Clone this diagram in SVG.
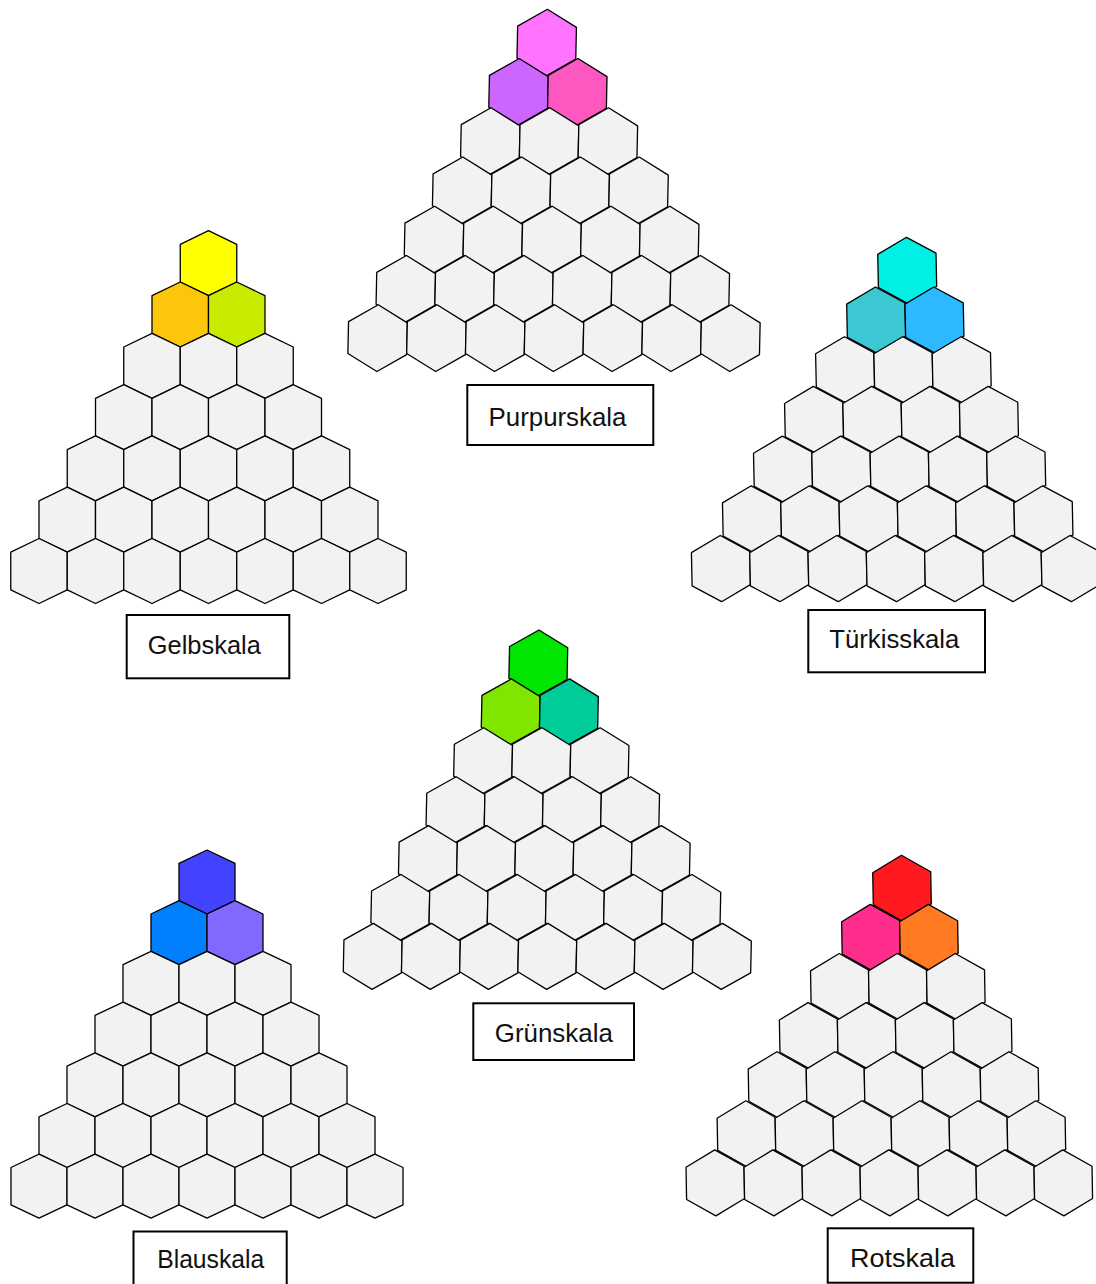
<svg xmlns="http://www.w3.org/2000/svg" xmlns:xlink="http://www.w3.org/1999/xlink" width="1096" height="1284" viewBox="0 0 1096 1284">
<style>
.hx{fill:#F2F2F2;stroke:#000;stroke-width:1.3;stroke-linejoin:round}
.box{fill:#fff;stroke:#000;stroke-width:2}
.lbl{font-family:"Liberation Sans",Arial,sans-serif;font-size:25px;fill:#111;text-anchor:middle}
</style>
<defs>
<polygon id="hP" points="0,-33.35 29.4,-15.9 29.4,15.9 0,33.35 -29.4,15.9 -29.4,-15.9" transform="rotate(1.2)"/>
<polygon id="hG" points="0,-32.5 28.25,-18.8 28.25,18.8 0,32.5 -28.25,18.8 -28.25,-18.8"/>
<polygon id="hT" points="0,-33.1 29.15,-16.6 29.15,16.6 0,33.1 -29.15,16.6 -29.15,-16.6" transform="rotate(-1.2)"/>
<polygon id="hN" points="0,-33 29.1,-15.9 29.1,15.9 0,33 -29.1,15.9 -29.1,-15.9" transform="rotate(1.2)"/>
<polygon id="hB" points="0,-32 28,-18.7 28,18.7 0,32 -28,18.7 -28,-18.7"/>
<polygon id="hR" points="0,-33 29,-16.1 29,16.1 0,33 -29,16.1 -29,-16.1" transform="rotate(-1)"/>
</defs>

<g id="purpurskala">
<use href="#hP" class="hx" x="546.7" y="42.65" style="fill:#FF73FF"/>
<use href="#hP" class="hx" x="518.5" y="91.9" style="fill:#CC66FF"/>
<use href="#hP" class="hx" x="577.3" y="91.9" style="fill:#FF57C0"/>
<use href="#hP" class="hx" x="490.3" y="141.15"/><use href="#hP" class="hx" x="549.1" y="141.15"/><use href="#hP" class="hx" x="607.9" y="141.15"/>
<use href="#hP" class="hx" x="462.15" y="190.4"/><use href="#hP" class="hx" x="520.95" y="190.4"/><use href="#hP" class="hx" x="579.75" y="190.4"/><use href="#hP" class="hx" x="638.55" y="190.4"/>
<use href="#hP" class="hx" x="434" y="239.65"/><use href="#hP" class="hx" x="492.8" y="239.65"/><use href="#hP" class="hx" x="551.6" y="239.65"/><use href="#hP" class="hx" x="610.4" y="239.65"/><use href="#hP" class="hx" x="669.2" y="239.65"/>
<use href="#hP" class="hx" x="405.8" y="288.9"/><use href="#hP" class="hx" x="464.6" y="288.9"/><use href="#hP" class="hx" x="523.4" y="288.9"/><use href="#hP" class="hx" x="582.2" y="288.9"/><use href="#hP" class="hx" x="641" y="288.9"/><use href="#hP" class="hx" x="699.8" y="288.9"/>
<use href="#hP" class="hx" x="377.6" y="338.15"/><use href="#hP" class="hx" x="436.4" y="338.15"/><use href="#hP" class="hx" x="495.2" y="338.15"/><use href="#hP" class="hx" x="554" y="338.15"/><use href="#hP" class="hx" x="612.8" y="338.15"/><use href="#hP" class="hx" x="671.6" y="338.15"/><use href="#hP" class="hx" x="730.4" y="338.15"/>
</g>
<g id="label-purpurskala"><rect class="box" x="467.3" y="385" width="186" height="60"/><text class="lbl" x="557.5" y="426" textLength="138" lengthAdjust="spacingAndGlyphs">Purpurskala</text></g>

<g id="gelbskala">
<use href="#hG" class="hx" x="208.5" y="263.2" style="fill:#FFFF00"/>
<use href="#hG" class="hx" x="180.25" y="314.5" style="fill:#FCC70A"/>
<use href="#hG" class="hx" x="236.75" y="314.5" style="fill:#C8EB00"/>
<use href="#hG" class="hx" x="152" y="365.8"/><use href="#hG" class="hx" x="208.5" y="365.8"/><use href="#hG" class="hx" x="265" y="365.8"/>
<use href="#hG" class="hx" x="123.75" y="417.1"/><use href="#hG" class="hx" x="180.25" y="417.1"/><use href="#hG" class="hx" x="236.75" y="417.1"/><use href="#hG" class="hx" x="293.25" y="417.1"/>
<use href="#hG" class="hx" x="95.5" y="468.4"/><use href="#hG" class="hx" x="152" y="468.4"/><use href="#hG" class="hx" x="208.5" y="468.4"/><use href="#hG" class="hx" x="265" y="468.4"/><use href="#hG" class="hx" x="321.5" y="468.4"/>
<use href="#hG" class="hx" x="67.25" y="519.7"/><use href="#hG" class="hx" x="123.75" y="519.7"/><use href="#hG" class="hx" x="180.25" y="519.7"/><use href="#hG" class="hx" x="236.75" y="519.7"/><use href="#hG" class="hx" x="293.25" y="519.7"/><use href="#hG" class="hx" x="349.75" y="519.7"/>
<use href="#hG" class="hx" x="39" y="571"/><use href="#hG" class="hx" x="95.5" y="571"/><use href="#hG" class="hx" x="152" y="571"/><use href="#hG" class="hx" x="208.5" y="571"/><use href="#hG" class="hx" x="265" y="571"/><use href="#hG" class="hx" x="321.5" y="571"/><use href="#hG" class="hx" x="378" y="571"/>
</g>
<g id="label-gelbskala"><rect class="box" x="126.7" y="615" width="162.6" height="63.3"/><text class="lbl" x="204.3" y="654.3" textLength="113" lengthAdjust="spacingAndGlyphs">Gelbskala</text></g>

<g id="tuerkisskala">
<use href="#hT" class="hx" x="907.2" y="270.4" style="fill:#00F0E6"/>
<use href="#hT" class="hx" x="876.15" y="320.1" style="fill:#3CC8D2"/>
<use href="#hT" class="hx" x="934.45" y="320.1" style="fill:#2DB9FF"/>
<use href="#hT" class="hx" x="845.1" y="369.8"/><use href="#hT" class="hx" x="903.4" y="369.8"/><use href="#hT" class="hx" x="961.7" y="369.8"/>
<use href="#hT" class="hx" x="814.05" y="419.5"/><use href="#hT" class="hx" x="872.35" y="419.5"/><use href="#hT" class="hx" x="930.65" y="419.5"/><use href="#hT" class="hx" x="988.95" y="419.5"/>
<use href="#hT" class="hx" x="783" y="469.2"/><use href="#hT" class="hx" x="841.3" y="469.2"/><use href="#hT" class="hx" x="899.6" y="469.2"/><use href="#hT" class="hx" x="957.9" y="469.2"/><use href="#hT" class="hx" x="1016.2" y="469.2"/>
<use href="#hT" class="hx" x="751.95" y="518.9"/><use href="#hT" class="hx" x="810.25" y="518.9"/><use href="#hT" class="hx" x="868.55" y="518.9"/><use href="#hT" class="hx" x="926.85" y="518.9"/><use href="#hT" class="hx" x="985.15" y="518.9"/><use href="#hT" class="hx" x="1043.45" y="518.9"/>
<use href="#hT" class="hx" x="720.9" y="568.6"/><use href="#hT" class="hx" x="779.2" y="568.6"/><use href="#hT" class="hx" x="837.5" y="568.6"/><use href="#hT" class="hx" x="895.8" y="568.6"/><use href="#hT" class="hx" x="954.1" y="568.6"/><use href="#hT" class="hx" x="1012.4" y="568.6"/><use href="#hT" class="hx" x="1070.7" y="568.6"/>
</g>
<g id="label-tuerkisskala"><rect class="box" x="808.3" y="610" width="176.7" height="62.3"/><text class="lbl" x="894.3" y="648.3" textLength="130" lengthAdjust="spacingAndGlyphs">Türkisskala</text></g>

<g id="gruenskala">
<use href="#hN" class="hx" x="538.3" y="663" style="fill:#00E600"/>
<use href="#hN" class="hx" x="510.7" y="711.9" style="fill:#80E600"/>
<use href="#hN" class="hx" x="568.9" y="711.9" style="fill:#00CC99"/>
<use href="#hN" class="hx" x="483.1" y="760.8"/><use href="#hN" class="hx" x="541.3" y="760.8"/><use href="#hN" class="hx" x="599.5" y="760.8"/>
<use href="#hN" class="hx" x="455.5" y="809.7"/><use href="#hN" class="hx" x="513.7" y="809.7"/><use href="#hN" class="hx" x="571.9" y="809.7"/><use href="#hN" class="hx" x="630.1" y="809.7"/>
<use href="#hN" class="hx" x="427.9" y="858.6"/><use href="#hN" class="hx" x="486.1" y="858.6"/><use href="#hN" class="hx" x="544.3" y="858.6"/><use href="#hN" class="hx" x="602.5" y="858.6"/><use href="#hN" class="hx" x="660.7" y="858.6"/>
<use href="#hN" class="hx" x="400.3" y="907.5"/><use href="#hN" class="hx" x="458.5" y="907.5"/><use href="#hN" class="hx" x="516.7" y="907.5"/><use href="#hN" class="hx" x="574.9" y="907.5"/><use href="#hN" class="hx" x="633.1" y="907.5"/><use href="#hN" class="hx" x="691.3" y="907.5"/>
<use href="#hN" class="hx" x="372.7" y="956.4"/><use href="#hN" class="hx" x="430.9" y="956.4"/><use href="#hN" class="hx" x="489.1" y="956.4"/><use href="#hN" class="hx" x="547.3" y="956.4"/><use href="#hN" class="hx" x="605.5" y="956.4"/><use href="#hN" class="hx" x="663.7" y="956.4"/><use href="#hN" class="hx" x="721.9" y="956.4"/>
</g>
<g id="label-gruenskala"><rect class="box" x="473.3" y="1003.3" width="160.7" height="56.7"/><text class="lbl" x="553.8" y="1041.7" textLength="118" lengthAdjust="spacingAndGlyphs">Grünskala</text></g>

<g id="blauskala">
<use href="#hB" class="hx" x="207" y="882" style="fill:#4343FF"/>
<use href="#hB" class="hx" x="179" y="932.7" style="fill:#0080FF"/>
<use href="#hB" class="hx" x="235" y="932.7" style="fill:#8069FF"/>
<use href="#hB" class="hx" x="151" y="983.4"/><use href="#hB" class="hx" x="207" y="983.4"/><use href="#hB" class="hx" x="263" y="983.4"/>
<use href="#hB" class="hx" x="123" y="1034.1"/><use href="#hB" class="hx" x="179" y="1034.1"/><use href="#hB" class="hx" x="235" y="1034.1"/><use href="#hB" class="hx" x="291" y="1034.1"/>
<use href="#hB" class="hx" x="95" y="1084.8"/><use href="#hB" class="hx" x="151" y="1084.8"/><use href="#hB" class="hx" x="207" y="1084.8"/><use href="#hB" class="hx" x="263" y="1084.8"/><use href="#hB" class="hx" x="319" y="1084.8"/>
<use href="#hB" class="hx" x="67" y="1135.5"/><use href="#hB" class="hx" x="123" y="1135.5"/><use href="#hB" class="hx" x="179" y="1135.5"/><use href="#hB" class="hx" x="235" y="1135.5"/><use href="#hB" class="hx" x="291" y="1135.5"/><use href="#hB" class="hx" x="347" y="1135.5"/>
<use href="#hB" class="hx" x="39" y="1186.2"/><use href="#hB" class="hx" x="95" y="1186.2"/><use href="#hB" class="hx" x="151" y="1186.2"/><use href="#hB" class="hx" x="207" y="1186.2"/><use href="#hB" class="hx" x="263" y="1186.2"/><use href="#hB" class="hx" x="319" y="1186.2"/><use href="#hB" class="hx" x="375" y="1186.2"/>
</g>
<g id="label-blauskala"><rect class="box" x="133.5" y="1231.5" width="153.2" height="62"/><text class="lbl" x="210.7" y="1268.3" textLength="107" lengthAdjust="spacingAndGlyphs">Blauskala</text></g>

<g id="rotskala">
<use href="#hR" class="hx" x="902" y="888.3" style="fill:#FF1A20"/>
<use href="#hR" class="hx" x="870.9" y="937.4" style="fill:#FF2D8C"/>
<use href="#hR" class="hx" x="928.9" y="937.4" style="fill:#FF7A22"/>
<use href="#hR" class="hx" x="839.8" y="986.5"/><use href="#hR" class="hx" x="897.8" y="986.5"/><use href="#hR" class="hx" x="955.8" y="986.5"/>
<use href="#hR" class="hx" x="808.65" y="1035.6"/><use href="#hR" class="hx" x="866.65" y="1035.6"/><use href="#hR" class="hx" x="924.65" y="1035.6"/><use href="#hR" class="hx" x="982.65" y="1035.6"/>
<use href="#hR" class="hx" x="777.5" y="1084.7"/><use href="#hR" class="hx" x="835.5" y="1084.7"/><use href="#hR" class="hx" x="893.5" y="1084.7"/><use href="#hR" class="hx" x="951.5" y="1084.7"/><use href="#hR" class="hx" x="1009.5" y="1084.7"/>
<use href="#hR" class="hx" x="746.4" y="1133.8"/><use href="#hR" class="hx" x="804.4" y="1133.8"/><use href="#hR" class="hx" x="862.4" y="1133.8"/><use href="#hR" class="hx" x="920.4" y="1133.8"/><use href="#hR" class="hx" x="978.4" y="1133.8"/><use href="#hR" class="hx" x="1036.4" y="1133.8"/>
<use href="#hR" class="hx" x="715.3" y="1182.9"/><use href="#hR" class="hx" x="773.3" y="1182.9"/><use href="#hR" class="hx" x="831.3" y="1182.9"/><use href="#hR" class="hx" x="889.3" y="1182.9"/><use href="#hR" class="hx" x="947.3" y="1182.9"/><use href="#hR" class="hx" x="1005.3" y="1182.9"/><use href="#hR" class="hx" x="1063.3" y="1182.9"/>
</g>
<g id="label-rotskala"><rect class="box" x="827.7" y="1228.3" width="145.6" height="54.4"/><text class="lbl" x="902.5" y="1266.7" textLength="105" lengthAdjust="spacingAndGlyphs">Rotskala</text></g>
</svg>
